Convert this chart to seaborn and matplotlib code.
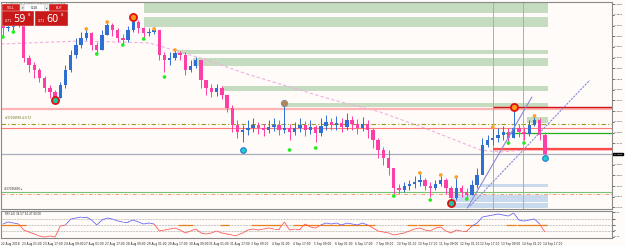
import numpy as np
import matplotlib
matplotlib.use("Agg")
import matplotlib.pyplot as plt
import seaborn as sns
from matplotlib.patches import Rectangle
from matplotlib.collections import LineCollection

# ---------------- data (4-hour aggregated candles, AUDUSD H1 view) ----------------
first_open = 0.73710
close = [0.73661, 0.73677, 0.73726, 0.73759, 0.73170, 0.73056, 0.72974, 0.72843, 0.72679, 0.72614,
         0.72516, 0.72728, 0.72974, 0.73219, 0.73383, 0.73497, 0.73579, 0.73383, 0.73301, 0.73546,
         0.73710, 0.73628, 0.73497, 0.73465, 0.73628, 0.73759, 0.73661, 0.73579, 0.73595, 0.73628,
         0.73219, 0.73137, 0.73170, 0.73252, 0.73219, 0.72974, 0.73039, 0.73137, 0.72810, 0.72679,
         0.72614, 0.72679, 0.72565, 0.72352, 0.72074, 0.71959, 0.71992, 0.72025, 0.72074, 0.72025,
         0.71992, 0.72041, 0.72074, 0.71992, 0.72025, 0.71959, 0.72025, 0.72074, 0.71992, 0.72041,
         0.71943, 0.72058, 0.72123, 0.72074, 0.72107, 0.72041, 0.72156, 0.72090, 0.72025, 0.72090,
         0.71992, 0.71829, 0.71665, 0.71534, 0.71371, 0.71043, 0.71011, 0.71076, 0.71109, 0.71141,
         0.71174, 0.71076, 0.71043, 0.71109, 0.71174, 0.71043, 0.70880, 0.71043, 0.70978, 0.70929,
         0.71092, 0.71256, 0.71747, 0.71829, 0.71861, 0.71910, 0.71959, 0.71861, 0.72025, 0.71959,
         0.71927, 0.72074, 0.72156, 0.71910, 0.71598]
high = [0.73759, 0.73759, 0.73792, 0.73825, 0.73759, 0.73219, 0.73105, 0.73007, 0.72876, 0.72728,
        0.72647, 0.72777, 0.73056, 0.73301, 0.73497, 0.73595, 0.73661, 0.73595, 0.73432, 0.73628,
        0.73775, 0.73743, 0.73661, 0.73563, 0.73694, 0.73841, 0.73792, 0.73677, 0.73661, 0.73677,
        0.73628, 0.73268, 0.73268, 0.73301, 0.73285, 0.73268, 0.73137, 0.73187, 0.73137, 0.72810,
        0.72745, 0.72745, 0.72712, 0.72565, 0.72401, 0.72156, 0.72074, 0.72156, 0.72189, 0.72123,
        0.72090, 0.72156, 0.72189, 0.72156, 0.72434, 0.72090, 0.72123, 0.72189, 0.72139, 0.72156,
        0.72074, 0.72189, 0.72238, 0.72189, 0.72221, 0.72189, 0.72270, 0.72221, 0.72172, 0.72205,
        0.72156, 0.72025, 0.71861, 0.71714, 0.71665, 0.71371, 0.71109, 0.71141, 0.71174, 0.71240,
        0.71272, 0.71207, 0.71141, 0.71174, 0.71240, 0.71207, 0.71076, 0.71207, 0.71092, 0.71043,
        0.71174, 0.71371, 0.71861, 0.71910, 0.72025, 0.72025, 0.72058, 0.72025, 0.72368, 0.72090,
        0.72041, 0.72156, 0.72221, 0.72189, 0.71959]
low = [0.73530, 0.73612, 0.73628, 0.73677, 0.73105, 0.72941, 0.72843, 0.72777, 0.72614, 0.72516,
       0.72450, 0.72516, 0.72679, 0.72941, 0.73170, 0.73334, 0.73465, 0.73301, 0.73219, 0.73301,
       0.73546, 0.73530, 0.73432, 0.73399, 0.73432, 0.73595, 0.73579, 0.73497, 0.73530, 0.73563,
       0.73137, 0.72941, 0.73056, 0.73137, 0.73137, 0.72892, 0.72941, 0.73007, 0.72679, 0.72565,
       0.72532, 0.72548, 0.72499, 0.72287, 0.71959, 0.71861, 0.71796, 0.71910, 0.71959, 0.71927,
       0.71894, 0.71943, 0.71976, 0.71910, 0.71943, 0.71829, 0.71910, 0.71959, 0.71894, 0.71927,
       0.71796, 0.71894, 0.71992, 0.71992, 0.71992, 0.71959, 0.71992, 0.71992, 0.71927, 0.71976,
       0.71861, 0.71698, 0.71534, 0.71420, 0.71256, 0.70945, 0.70945, 0.70978, 0.71011, 0.71043,
       0.71076, 0.71011, 0.70896, 0.71011, 0.71076, 0.70945, 0.70814, 0.70847, 0.70896, 0.70863,
       0.70929, 0.71043, 0.71338, 0.71714, 0.71747, 0.71796, 0.71829, 0.71763, 0.71861, 0.71878,
       0.71829, 0.71894, 0.72058, 0.71829, 0.71583]

rsi = [51.8, 55.3, 53.5, 51.8, 41.2, 37.7, 34.2, 30.7, 28.9, 30.7,
       28.9, 48.2, 50.0, 60.5, 62.3, 64.0, 64.0, 58.8, 50.0, 58.8,
       62.3, 60.5, 57.0, 55.3, 55.3, 58.8, 55.3, 51.8, 53.5, 51.8,
       39.5, 41.2, 43.0, 44.7, 41.2, 36.0, 39.5, 43.0, 36.0, 34.2,
       36.0, 39.5, 36.0, 34.2, 32.5, 32.5, 36.0, 41.2, 43.0, 41.2,
       43.0, 44.7, 43.0, 43.0, 55.3, 41.2, 43.0, 43.0, 51.8, 46.5,
       44.7, 50.0, 53.5, 51.8, 53.5, 50.0, 53.5, 51.8, 50.0, 53.5,
       50.0, 44.7, 39.5, 37.7, 36.0, 32.5, 34.2, 36.0, 39.5, 43.0,
       44.7, 41.2, 39.5, 44.7, 46.5, 39.5, 36.0, 41.2, 39.5, 39.5,
       48.2, 53.5, 64.0, 65.8, 67.5, 69.3, 67.5, 65.8, 71.1, 58.8,
       57.0, 58.8, 60.5, 51.8, 37.7]
rsi_orange = [(0, 4), (34, 36), (42, 43), (48, 53), (56, 71), (78, 79), (80, 84), (89, 91), (97, 98), (99, 104)]

ma_bar = [0, 61, 114, 153, 191, 255, 291, 329, 368, 383, 420]
ma_price = [0.73399, 0.73448, 0.73416, 0.73170, 0.72892, 0.72483, 0.72287, 0.71992, 0.71665, 0.71632, 0.71698]

green_zones = [(110, 420, 0.73906, 0.74070), (110, 420, 0.73677, 0.73841), (135, 420, 0.73236, 0.73301),
               (147, 420, 0.73039, 0.73170), (170, 420, 0.72630, 0.72712), (216, 420, 0.72368, 0.72434),
               (404, 420, 0.72107, 0.72205)]
blue_zones = [(368, 420, 0.71060, 0.71109), (346, 420, 0.70814, 0.70929), (346, 420, 0.70716, 0.70798)]

small_green = [(0, 0.73514), (2, 0.73595), (18, 0.73236), (23, 0.73383), (27, 0.73481), (31, 0.72859),
               (55, 0.71665), (60, 0.71698), (75, 0.70912), (82, 0.70847), (89, 0.70863), (97, 0.71780), (100, 0.71780)]
small_orange = [(16, 0.73645), (20, 0.73759), (29, 0.73645), (33, 0.73301), (80, 0.71289), (84, 0.71256),
                (87, 0.71223), (94, 0.72041), (102, 0.72221)]
swing_high = [(25, 0.73841), (98, 0.72368)]
swing_low = [(10, 0.72483), (86, 0.70798)]
mid_mark = [(54, 0.72434)]
cyan_mark = [(46, 0.71665), (104, 0.71534)]

trend_a = ([358, 407.5], [0.70716, 0.72532])
trend_b = ([360, 452], [0.70749, 0.72810])
vlines_bar = [378, 401]

bid = 0.71598
price_ticks = [0.74050 - k * 0.00175 for k in range(20)]
x_labels = ["22 Aug 2018", "23 Aug 01:00", "23 Aug 17:00", "24 Aug 09:00", "27 Aug 01:00", "27 Aug 17:00",
            "28 Aug 09:00", "29 Aug 01:00", "29 Aug 17:00", "30 Aug 09:00", "31 Aug 01:00", "31 Aug 17:00",
            "3 Sep 09:00", "4 Sep 01:00", "4 Sep 17:00", "5 Sep 09:00", "6 Sep 01:00", "6 Sep 17:00",
            "7 Sep 09:00", "10 Sep 01:00", "10 Sep 17:00", "11 Sep 09:00", "12 Sep 01:00", "12 Sep 17:00",
            "13 Sep 09:00", "14 Sep 01:00", "14 Sep 17:00"]

# ---------------- figure ----------------
sns.set_theme(style="white")
plt.rcParams['font.family'] = ['DejaVu Sans']
W, H = 625, 246
bg = '#fffbf9'
fig = plt.figure(figsize=(6.25, 2.46), dpi=100)
fig.patch.set_facecolor(bg)


def fx(px):
    return px / W


def fy(py):
    return 1 - py / H


ax = fig.add_axes([fx(1), fy(209), fx(612) - fx(1), fy(2) - fy(209)])
axr = fig.add_axes([fx(1), fy(238), fx(612) - fx(1), fy(211) - fy(238)], sharex=ax)
for a in (ax, axr):
    a.set_facecolor(bg)
    for s in a.spines.values():
        s.set_color('#8a8a8a')
        s.set_linewidth(0.8)
ax.set_xlim(0, 469)
ax.set_ylim(0.70700, 0.74086)

# zones
for x0, x1, p0, p1 in green_zones:
    ax.add_patch(Rectangle((x0, p0), x1 - x0, p1 - p0, fc='#c5dcc0', ec='none', zorder=1))
for x0, x1, p0, p1 in blue_zones:
    ax.add_patch(Rectangle((x0, p0), x1 - x0, p1 - p0, fc='#c9d9ee', ec='none', zorder=1))

# horizontal levels
ax.axhline(0.72336, color='#ffb3b3', lw=1.6, zorder=2)
ax.hlines(0.72368, 378, 469, color='#d41414', lw=1.0, zorder=3)
ax.axhline(0.72090, color='#9a9a1e', lw=0.8, ls=(0, (4, 2, 1, 2)), zorder=2)
ax.axhline(0.72025, color='#ff7a7a', lw=0.8, zorder=2)
ax.hlines(0.71943, 387, 469, color='#20b020', lw=0.9, zorder=3)
ax.hlines(0.71681, 378, 469, color='#ff4848', lw=1.6, zorder=3)
ax.hlines(0.71660, 378, 469, color='#ffc8c8', lw=1.2, zorder=2)
ax.axhline(bid, color='#a8aebb', lw=0.9, zorder=2)
ax.axhline(0.70978, color='#74c474', lw=0.8, zorder=2)
ax.axhline(0.70950, color='#ff9a7a', lw=0.7, ls=(0, (4, 2, 1, 2)), zorder=2)
for vb in vlines_bar:
    ax.axvline(vb, color='#a8aebb', lw=0.7, zorder=2)

# moving average
sns.lineplot(x=ma_bar, y=ma_price, ax=ax, color='#efb0df', lw=0.8, linestyle=(0, (3, 2)), zorder=2)

# candles
close_a = np.array(close)
open_a = np.r_[first_open, close_a[:-1]]
high_a = np.array(high)
low_a = np.array(low)
xc = np.arange(len(close_a)) * 4 + 1.5
up = close_a >= open_a
cols = np.where(up, '#2f6fd4', '#ff3fa6')
ax.vlines(xc, low_a, high_a, colors=cols, lw=0.7, zorder=4)
body = close_a - open_a
body = np.where(np.abs(body) < 0.00006, 0.00006, body)
ax.bar(xc, body, bottom=open_a, width=2.6, color=cols, edgecolor='none', zorder=5)

# trend lines
ax.plot(*trend_a, color='#8a8ad8', lw=0.8, zorder=6)
ax.plot(*trend_b, color='#8a8ad8', lw=0.8, ls=(0, (2, 1)), zorder=6)


def mk(lst):
    return [4 * j + 1.5 for j, _ in lst], [p for _, p in lst]


gx, gy = mk(small_green)
sns.scatterplot(x=gx, y=gy, ax=ax, color='#22ee22', s=7, edgecolor='none', zorder=7)
ox, oy = mk(small_orange)
sns.scatterplot(x=ox, y=oy, ax=ax, color='#ffa020', s=7, edgecolor='none', zorder=7)
hx, hy = mk(swing_high)
sns.scatterplot(x=hx, y=hy, ax=ax, color='#ff9a20', s=26, edgecolor='#e01010', linewidth=1.3, zorder=8)
lx, ly = mk(swing_low)
sns.scatterplot(x=lx, y=ly, ax=ax, color='#18c8a0', s=26, edgecolor='#e01010', linewidth=1.3, zorder=8)
mx, my = mk(mid_mark)
sns.scatterplot(x=mx, y=my, ax=ax, color='#c08040', s=18, edgecolor='#909090', linewidth=1.0, zorder=8)
cx, cy = mk(cyan_mark)
sns.scatterplot(x=cx, y=cy, ax=ax, color='#20d0d0', s=16, edgecolor='#2a80d0', linewidth=0.9, zorder=8)

# price axis
ax.yaxis.tick_right()
ax.set_yticks(price_ticks)
ax.set_yticklabels(["" if abs(t - 0.716) < 1e-6 else f"{t:.5f}" for t in price_ticks])
ax.tick_params(axis='y', length=1.2, width=0.5, pad=0.2, labelsize=1.65, colors='#222222')
ax.tick_params(axis='x', bottom=False, labelbottom=False)
ax.text(1.0022, bid, f"{bid:.5f}", transform=ax.get_yaxis_transform(), fontsize=1.65, color='white',
        va='center', ha='left', bbox=dict(fc='black', ec='black', pad=0.3), zorder=10, clip_on=False)

# in-chart texts
ax.text(3, 0.72150, "#37268958 sl:0.72", fontsize=2.0, color='#6a6a10', va='bottom')
ax.text(2, 0.70990, "#37086830 \u25b8", fontsize=2.0, color='#303030', va='bottom')
ax.text(534, 0.70740, "Spread: 16. Next Bar in 52:51", fontsize=2.9, color='#404040',
        family='DejaVu Sans Mono', va='center', ha='left')
ax.text(4, 0.74070, "\u25be AUDUSD,H1  0.71606 0.71621 0.71587 0.71598", fontsize=1.7,
        color='#303030', va='top')

# RSI panel
axr.set_ylim(27.2, 74.6)
for lv in (60, 50, 40):
    axr.axhline(lv, color='#8c8c8c', lw=0.5, ls=(0, (1, 1.2)), zorder=1)
for s0, s1 in rsi_orange:
    axr.hlines(50, 4 * s0, 4 * s1 + 3, color='#e8801c', lw=0.9, zorder=2)
rsi_a = np.array(rsi)
pts = np.column_stack([xc, rsi_a])
segs = np.stack([pts[:-1], pts[1:]], axis=1)
mid = (rsi_a[:-1] + rsi_a[1:]) / 2
seg_cols = np.where(mid >= 50, '#6a6af5', '#ff5a5a')
axr.add_collection(LineCollection(segs, colors=seg_cols, linewidths=0.6, zorder=3))
axr.text(3, 73.5, "RSI(14) 34.57 34.47 60.00", fontsize=2.0, color='#303030', va='top')
axr.yaxis.tick_right()
axr.set_yticks([72.5, 60, 50, 40, 29.5])
axr.set_yticklabels(["74.60", "60", "50", "40", "27.20"])
axr.tick_params(axis='y', length=1.2, width=0.5, pad=0.2, labelsize=1.65, colors='#222222')
axr.set_xticks(np.arange(len(x_labels)) * 16)
axr.set_xticklabels(x_labels, ha='left')
axr.tick_params(axis='x', length=2, width=0.5, pad=1.2, labelsize=2.1, colors='#222222')

# one-click trading panel


def fbox(x0, y0, x1, y1, **kw):
    fig.add_artist(Rectangle((fx(x0), fy(y1)), fx(x1) - fx(x0), fy(y0) - fy(y1),
                             transform=fig.transFigure, **kw))


def ftext(x, y, s, **kw):
    fig.text(fx(x), fy(y), s, **kw)


fbox(2, 4, 20, 11.5, fc='#d41e1e', ec='#f0f0f0', lw=0.3)
ftext(11, 7.8, "SELL", fontsize=2.3, color='white', ha='center', va='center')
fbox(21, 4, 24, 11.5, fc='#f4f4f4', ec='#b0b0b0', lw=0.3)
ftext(22.5, 7.8, "\u25be", fontsize=2.0, color='#333333', ha='center', va='center')
fbox(24, 4, 45, 11.5, fc='white', ec='#b0b0b0', lw=0.3)
ftext(34.5, 7.8, "0.10", fontsize=2.3, color='#111111', ha='center', va='center')
fbox(45, 4, 48, 11.5, fc='#f4f4f4', ec='#b0b0b0', lw=0.3)
ftext(46.5, 7.8, "\u25b4", fontsize=2.0, color='#333333', ha='center', va='center')
fbox(49, 4, 68, 11.5, fc='#d41e1e', ec='#f0f0f0', lw=0.3)
ftext(58.5, 7.8, "BUY", fontsize=2.3, color='white', ha='center', va='center')
fbox(2, 11.5, 34, 26, fc='#c81818', ec='#f0f0f0', lw=0.3)
fbox(35, 11.5, 68, 26, fc='#c81818', ec='#f0f0f0', lw=0.3)
for x0, big in ((2, "59"), (35, "60")):
    ftext(x0 + 3, 21, "0.71", fontsize=2.3, color='white', ha='left', va='center')
    ftext(x0 + 11, 19.5, big, fontsize=7.0, color='white', ha='left', va='center')
    ftext(x0 + 26, 15.5, "8", fontsize=2.8, color='white', ha='left', va='center')

fig.savefig("out.png", dpi=100, facecolor=bg)
